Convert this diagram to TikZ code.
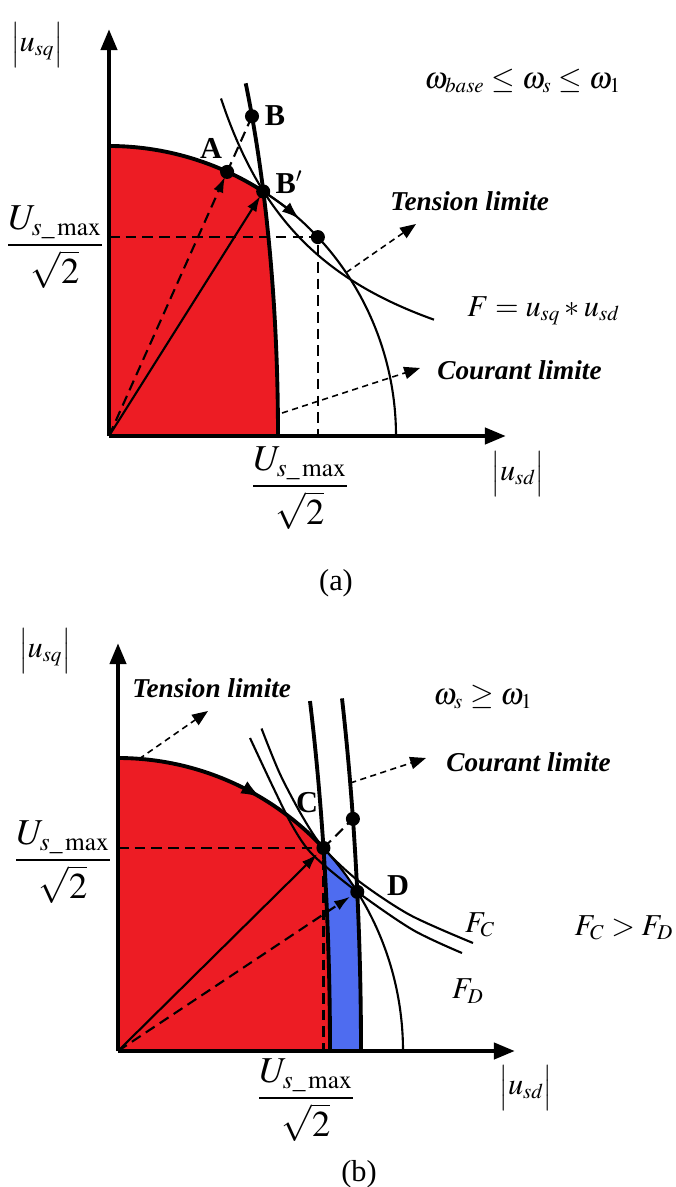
\documentclass[tikz,border=0pt]{standalone}
\usepackage{amsmath}
\usepackage{mathptmx}
\usepackage[no-math]{fontspec}
\setmainfont{Liberation Serif}
\usepackage{tikz}
\usetikzlibrary{arrows.meta, positioning, calc}

\definecolor{zonered}{RGB}{237,28,36}
\definecolor{zoneblue}{RGB}{78,108,240}

\newcommand{\absval}[1]{{\Large$\Big|$}{\LARGE$#1$}{\Large$\Big|$}}

\tikzset{
  axisline/.style={
    line width=2.6pt, -{Triangle[length=12pt, width=9pt]}
  },
  limitcurve/.style={line width=2.2pt},
  thincurve/.style={line width=1.2pt},
  vecarrow/.style={
    line width=1.2pt, -{Latex[length=9pt, width=6pt]}
  },
  guidedash/.style={
    line width=1.2pt, dash pattern=on 6pt off 3.5pt
  },
  pointer/.style={
    line width=0.9pt, dash pattern=on 3.5pt off 2.5pt,
    -{Triangle[length=9pt, width=7pt]}
  },
  opdot/.style={
    circle, fill=black, inner sep=0pt, minimum size=8pt
  },
  ptlabel/.style={font=\LARGE\bfseries, inner sep=0pt},
  limitlabel/.style={
    font=\fontsize{15.5}{18}\selectfont\bfseries\itshape,
    anchor=west, inner sep=0pt
  },
  mathlabel/.style={font=\LARGE, inner sep=0pt},
  fraclabel/.style={font=\huge, inner sep=0pt},
}

\begin{document}
\begin{tikzpicture}
  \useasboundingbox (0,0) rectangle (13.52,-23.74);

  % ── (a) : base speed up to omega_1 ─────────────────────────────
  \begin{scope}[shift={(2.18,-8.72)}]
    \coordinate (Oa) at (0,0);
    \coordinate (xa) at (7.94,0);
    \coordinate (ya) at (0,8.14);
    \coordinate (Bpa) at ({5.74*cos(57.5)},{5.8*sin(57.5)});
    \coordinate (Ba) at ({3.38*cos(32.2)},{12*sin(32.2)});
    \coordinate (Aa) at ($(Oa)!0.826!(Ba)$);
    \coordinate (Pa) at ({5.74*cos(43.3)},{5.8*sin(43.3)});

    % red zone
    \fill[zonered] (Oa) -- (0,5.8)
      arc[start angle=90, end angle=57.5, x radius=5.74, y radius=5.8]
      arc[start angle=24.05, end angle=0, x radius=3.38, y radius=12]
      -- cycle;

    % guide lines
    \draw[guidedash] (Oa |- Pa) -- (Pa) -- (Pa |- Oa);

    % limit curves and F
    \draw[limitcurve] (0,5.8)
      arc[start angle=90, end angle=57.5, x radius=5.74, y radius=5.8];
    \draw[thincurve] (Bpa)
      arc[start angle=57.5, end angle=0, x radius=5.74, y radius=5.8];
    \draw[thincurve, -{Latex[length=10pt, width=7pt]}] (Bpa)
      arc[start angle=57.5, end angle=48.5, x radius=5.74, y radius=5.8];
    \draw[limitcurve] ({3.38*cos(36)},{12*sin(36)})
      arc[start angle=36, end angle=0, x radius=3.38, y radius=12];
    \draw[thincurve] plot[domain=2.24:6.5, samples=40, smooth]
      (\x, {15.12/\x});

    % axes
    \draw[axisline] (Oa) -- (xa);
    \draw[axisline] (Oa) -- (ya);

    % current vectors
    \draw[guidedash, -{Latex[length=9pt, width=6pt]}, shorten >=3pt]
      (Oa) -- (Aa);
    \draw[guidedash] (Aa) -- (Ba);
    \draw[vecarrow, shorten >=3pt] (Oa) -- (Bpa);

    % operating points
    \node[opdot] (dotA) at (Aa) {};
    \node[opdot] (dotB) at (Ba) {};
    \node[opdot] (dotBp) at (Bpa) {};
    \node[opdot] (dotP) at (Pa) {};
    \node[ptlabel] (labA) at (2.04,5.76) {A};
    \node[ptlabel] (labB) at (3.32,6.40) {B};
    \node[ptlabel] (labBp) at (3.60,5.08) {B$'$};

    % pointers
    \coordinate (tsrc) at ({5.74*cos(34.3)},{5.8*sin(34.3)});
    \coordinate (tdst) at (6.14,4.24);
    \coordinate (csrc) at (3.46,0.46);
    \coordinate (cdst) at (6.22,1.36);
    \draw[pointer] (tsrc) -- (tdst);
    \draw[pointer] (csrc) -- (cdst);
    \node[limitlabel] (tlabA) at (5.62,4.70) {Tension limite};
    \node[limitlabel] (clabA) at (6.56,1.32) {Courant limite};

    % math labels
    \node[mathlabel, anchor=west] (speedA) at (6.30,7.10)
      {$\omega_{base} \le \omega_s \le \omega_1$};
    \node[mathlabel, anchor=west] (torqA) at (7.16,2.50)
      {$F = u_{sq} * u_{sd}$};
    \node[inner sep=0pt] (usqA) at (-1.44,7.82) {\absval{u_{sq}}};
    \node[inner sep=0pt] (usdA) at (8.18,-0.76) {\absval{u_{sd}}};
    \node[fraclabel] (fracyA) at (-1.08,3.78)
      {$\dfrac{U_{s\_\max}}{\sqrt{2}}$};
    \node[fraclabel] (fracxA) at (3.82,-1.04)
      {$\dfrac{U_{s\_\max}}{\sqrt{2}}$};
    \node[font=\LARGE] (capA) at (4.54,-2.94) {(a)};
  \end{scope}

  % ── (b) : above omega_1 ────────────────────────────────────────
  \begin{scope}[shift={(2.36,-21.02)}]
    \coordinate (Ob) at (0,0);
    \coordinate (xb) at (7.94,0);
    \coordinate (yb) at (0,8.16);
    \coordinate (Cb) at ({5.70*cos(43.87)},{5.86*sin(43.87)});
    \coordinate (Db) at ({5.70*cos(32.9)},{5.86*sin(32.9)});
    \coordinate (Eb) at ($(Ob)!1.1434!(Cb)$);

    % red and blue zones
    \fill[zonered] (Ob) -- (0,5.86)
      arc[start angle=90, end angle=43.87, x radius=5.70, y radius=5.86]
      arc[start angle=14.25, end angle=0, x radius=4.24, y radius=16.5]
      -- cycle;
    \fill[zoneblue] (Cb)
      arc[start angle=43.87, end angle=32.9, x radius=5.70, y radius=5.86]
      arc[start angle=10.07, end angle=0, x radius=4.86, y radius=18.2]
      -- (4.24,0)
      arc[start angle=0, end angle=14.25, x radius=4.24, y radius=16.5]
      -- cycle;

    % guide lines
    \draw[guidedash] (Ob |- Cb) -- (Cb) -- (Cb |- Ob);
    \draw[guidedash] (Cb) -- (Eb);

    % limit curves
    \draw[limitcurve] (0,5.86)
      arc[start angle=90, end angle=43.87, x radius=5.70, y radius=5.86];
    \draw[thincurve, -{Latex[length=11pt, width=8pt]}]
      ({5.70*cos(70)},{5.86*sin(70)})
      arc[start angle=70, end angle=60, x radius=5.70, y radius=5.86];
    \draw[thincurve] (Cb)
      arc[start angle=43.87, end angle=0, x radius=5.70, y radius=5.86];
    \draw[limitcurve] ({4.24*cos(25.1)},{16.5*sin(25.1)})
      arc[start angle=25.1, end angle=0, x radius=4.24, y radius=16.5];
    \draw[limitcurve] ({4.86*cos(22.8)},{18.2*sin(22.8)})
      arc[start angle=22.8, end angle=0, x radius=4.86, y radius=18.2];

    % F_C and F_D
    \draw[thincurve] plot[smooth] coordinates {
      (2.87,6.45) (3.24,5.54) (3.70,4.67) (Cb)
      (4.80,3.41) (5.84,2.72) (7.10,2.16)};
    \draw[thincurve] plot[smooth] coordinates {
      (2.64,6.26) (3.10,5.28) (3.50,4.48) (3.90,3.92)
      (Db) (5.90,2.42) (6.88,1.96)};

    % axes
    \draw[axisline] (Ob) -- (xb);
    \draw[axisline] (Ob) -- (yb);

    % current vectors
    \draw[vecarrow, shorten >=5pt] (Ob) -- (Cb);
    \draw[guidedash, -{Latex[length=9pt, width=6pt]}, shorten >=5pt]
      (Ob) -- (Db);

    % operating points
    \node[opdot] (dotC) at (Cb) {};
    \node[opdot] (dotD) at (Db) {};
    \node[opdot] (dotE) at (Eb) {};
    \node[ptlabel] (labC) at (3.78,4.96) {C};
    \node[ptlabel] (labD) at (5.60,3.30) {D};

    % pointers
    \coordinate (tsrcb) at (0.42,5.84);
    \coordinate (tdstb) at (1.80,6.80);
    \coordinate (csrcb) at (4.645,5.36);
    \coordinate (cdstb) at (6.16,5.86);
    \draw[pointer] (tsrcb) -- (tdstb);
    \draw[pointer] (csrcb) -- (cdstb);
    \node[limitlabel] (tlabB) at (0.28,7.26) {Tension limite};
    \node[limitlabel] (clabB) at (6.56,5.78) {Courant limite};

    % math labels
    \node[mathlabel, anchor=west] (speedB) at (6.30,7.08)
      {$\omega_s \ge \omega_1$};
    \node[mathlabel] (fcB) at (7.24,2.52) {$F_C$};
    \node[mathlabel] (fdB) at (7.00,1.20) {$F_D$};
    \node[mathlabel] (fcmpB) at (10.12,2.46) {$F_C > F_D$};
    \node[inner sep=0pt] (usqB) at (-1.46,8.00) {\absval{u_{sq}}};
    \node[inner sep=0pt] (usdB) at (8.16,-0.74) {\absval{u_{sd}}};
    \node[fraclabel] (fracyB) at (-1.10,3.78)
      {$\dfrac{U_{s\_\max}}{\sqrt{2}}$};
    \node[fraclabel] (fracxB) at (3.76,-0.98)
      {$\dfrac{U_{s\_\max}}{\sqrt{2}}$};
    \node[font=\LARGE] (capB) at (4.82,-2.46) {(b)};
  \end{scope}
\end{tikzpicture}
\end{document}
